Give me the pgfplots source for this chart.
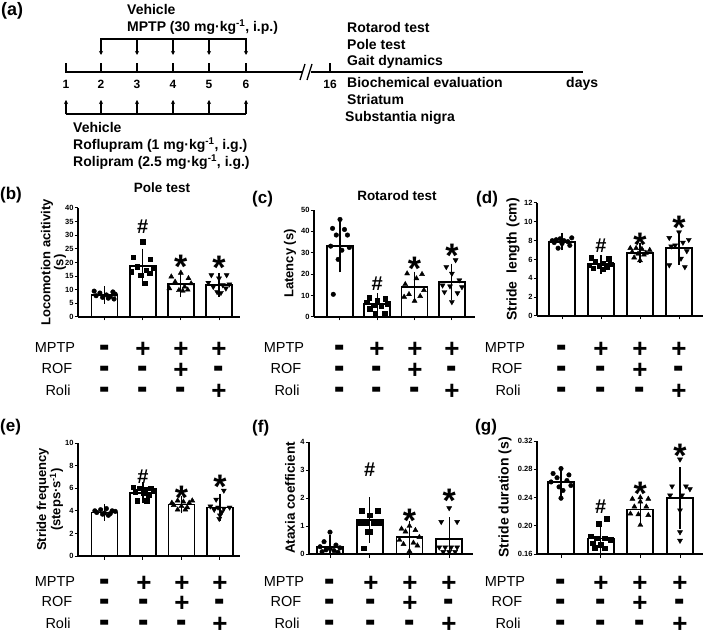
\documentclass[border=0pt]{standalone}
\usepackage{fontspec}
\setmainfont{Liberation Sans}
\usepackage{graphicx}
\usepackage{pgfplots}
\pgfplotsset{compat=1.18}
\usetikzlibrary{arrows.meta}
\newcommand{\fs}[1]{\fontsize{#1}{#1}\selectfont}
\pgfplotsset{
  panel/.style={
    scale only axis, anchor=south west,
    axis x line*=bottom, axis y line*=left,
    axis line style={line width=1.1pt, black},
    xtick={1,2,3,4}, xticklabels={},
    tick align=outside, major tick length=3.5pt,
    every tick/.style={line width=1pt, black},
    yticklabel style={font=\bfseries\fs{7.5}, inner sep=0.8pt},
    /pgf/number format/assume math mode=true,
    ylabel style={font=\bfseries\fs{13}, align=center, anchor=center},
    clip mode=individual,
  },
  bars/.style={ybar, bar width=26pt, fill=white, draw=black, line width=1.8pt,
    error bars/.cd, y dir=both, y explicit,
    error bar style={line width=1.2pt, black},
    error mark options={line width=1.2pt, black, mark size=6pt}},
  g1/.style={only marks, mark=*, mark size=2.3pt, black},
  g2/.style={only marks, mark=square*, mark size=2.2pt, black},
  g3/.style={only marks, mark=triangle*, mark size=2.9pt, black},
  g4/.style={only marks, mark=triangle*, mark size=2.9pt, black, mark options={rotate=180}},
}
\tikzset{
  hs/.style={font=\bfseries\fs{20}},
  st/.style={font=\bfseries\fs{34}, anchor=base, yshift=-20pt},
  pl/.style={font=\bfseries\fs{26}, anchor=base, yshift=-9.2pt},
  mi/.style={font=\bfseries\fs{26}, anchor=base, yshift=-10.6pt},
  lab/.style={font=\fs{14.5}, anchor=center},
  tl/.style={font=\bfseries\fs{14}, anchor=base west, inner sep=0pt},
  pn/.style={font=\bfseries\fs{17}, anchor=base west, inner sep=0pt},
}
\newcommand{\mn}{\scalebox{1.2}[1.6]{-}}
\newcommand{\signtable}[8]{%
  \node[lab] at (#5pt,#6pt) {MPTP};
  \node[lab] at (#5pt+2pt,#7pt) {ROF};
  \node[lab] at (#5pt+3pt,#8pt) {Roli};
  \node[mi] at (#1pt,#6pt) {\mn}; \node[pl] at (#2pt,#6pt) {+};
  \node[pl] at (#3pt,#6pt) {+}; \node[pl] at (#4pt,#6pt) {+};
  \node[mi] at (#1pt,#7pt) {\mn}; \node[mi] at (#2pt,#7pt) {\mn};
  \node[pl] at (#3pt,#7pt) {+}; \node[mi] at (#4pt,#7pt) {\mn};
  \node[mi] at (#1pt,#8pt) {\mn}; \node[mi] at (#2pt,#8pt) {\mn};
  \node[mi] at (#3pt,#8pt) {\mn}; \node[pl] at (#4pt,#8pt) {+};
}
\begin{document}
\begin{tikzpicture}
\useasboundingbox (0pt,0pt) rectangle (709pt,632pt);
\fill[white] (0pt,0pt) rectangle (709pt,632pt);
% ---------------- (a) timeline ----------------
\node[font=\bfseries\fs{18}, anchor=base west, inner sep=0pt] at (1pt,616pt) {(a)};
\draw[line width=2.5pt] (65pt,560pt) -- (303pt,560pt);
\draw[line width=2.5pt] (311pt,560pt) -- (583pt,560pt);
\draw[line width=1.3pt] (300pt,552pt) -- (305pt,568pt);
\draw[line width=1.3pt] (307pt,552pt) -- (312pt,568pt);
\foreach \x/\d in {66/1,101/2,137/3,173/4,209/5,246/6,330/16}{
  \draw[line width=1.3pt] (\x pt,560pt) -- (\x pt,569pt);
  \node[font=\bfseries\fs{12}, anchor=base] at (\x pt,543pt) {\d};
}
\draw[line width=1.1pt] (101pt,593pt) -- (246pt,593pt);
\foreach \x in {101,137,173,209,246}
  \draw[line width=1.1pt, -{Stealth[length=4pt,width=4pt]}] (\x pt,593.5pt) -- (\x pt,577pt);
\draw[line width=1.1pt] (66pt,518pt) -- (246pt,518pt);
\foreach \x in {66,101,137,173,209,246}
  \draw[line width=1.1pt, -{Stealth[length=4pt,width=4pt]}] (\x pt,517.5pt) -- (\x pt,532pt);
\node[tl] at (127pt,617pt) {Vehicle};
\node[tl] at (127pt,600pt) {MPTP (30 mg·kg\textsuperscript{-1}, i.p.)};
\node[tl] at (73pt,499pt) {Vehicle};
\node[tl] at (73pt,482pt) {Roflupram (1 mg·kg\textsuperscript{-1}, i.g.)};
\node[tl] at (73pt,465pt) {Rolipram (2.5 mg·kg\textsuperscript{-1}, i.g.)};
\node[tl] at (347pt,599pt) {Rotarod test};
\node[tl] at (347pt,582pt) {Pole test};
\node[tl] at (347pt,566pt) {Gait dynamics};
\node[tl] at (347pt,544pt) {Biochemical evaluation};
\node[tl] at (347pt,527pt) {Striatum};
\node[tl] at (345pt,510pt) {Substantia nigra};
\node[tl] at (566pt,544pt) {days};
% ---------------- panel labels and titles ----------------
\node[pn] at (0pt,432pt) {(b)};
\node[pn] at (252pt,428pt) {(c)};
\node[pn] at (476pt,428pt) {(d)};
\node[pn] at (0pt,200pt) {(e)};
\node[pn] at (252pt,199pt) {(f)};
\node[pn] at (475pt,200pt) {(g)};
\node[font=\bfseries\fs{13.5}, anchor=base] at (162pt,439pt) {Pole test};
\node[font=\bfseries\fs{13.5}, anchor=base] at (397pt,431pt) {Rotarod test};
% ---------------- (b) ----------------
\begin{axis}[panel, at={(78pt,315pt)}, width=162pt, height=109pt,
  xmin=0.306, xmax=4.55, ymin=0, ymax=40, ytick={0,5,...,40},
  ylabel={Locomotion acitivity\\(s)},
  ylabel style={at={(axis description cs:-0.151,0.5)}}]
\addplot[bars] coordinates {(1,8.0) +- (0,1.0) (2,18.6) +- (0,4.3) (3,12.0) +- (0,2.6) (4,11.8) +- (0,2.1)};
\addplot[g1] coordinates {(0.73,9.5)(1.22,9.2)(0.88,8.8)(1.28,8.4)(1.05,8.1)(0.78,7.8)(1.15,7.5)(0.95,7.2)(1.10,6.9)(1.25,6.6)};
\addplot[g2] coordinates {(2.0,27.7)(1.75,21.9)(2.2,21.2)(1.85,18.5)(2.27,17.8)(2.1,17.2)(1.7,16.6)(2.18,16.0)(1.95,15.4)(2.05,12.3)};
\addplot[g3] coordinates {(3.0,16.2)(2.75,14.8)(3.2,14.2)(2.85,12.9)(3.27,12.3)(3.1,11.1)(2.7,10.5)(3.18,10.0)(2.95,9.8)(3.05,9.6)};
\addplot[g4] coordinates {(3.8,15.4)(4.2,15.4)(4.0,14.2)(3.72,12.6)(4.27,12.0)(4.1,11.7)(3.85,11.1)(4.18,10.5)(3.95,9.2)(4.05,8.9)};
\node[hs] at (axis cs:2,33) {\#};
\node[st] at (axis cs:3,21.6) {*};
\node[st] at (axis cs:4,21) {*};
\end{axis}
% ---------------- (c) ----------------
\begin{axis}[panel, at={(314pt,315pt)}, width=161pt, height=107pt,
  xmin=0.303, xmax=4.62, ymin=0, ymax=50, ytick={0,10,...,50},
  ylabel={Latency (s)},
  ylabel style={at={(axis description cs:-0.149,0.5)}}]
\addplot[bars] coordinates {(1,33.1) +- (0,9.5) (2,5.9) +- (0,2.5) (3,14.0) +- (0,4.4) (4,16.4) +- (0,5.7)};
\addplot[g1] coordinates {(1.0,45.6)(0.8,41.4)(1.12,40.9)(0.9,38.3)(1.2,38.3)(0.75,33.1)(1.25,32.5)(1.05,31.2)(0.95,26.9)(0.82,10.6)};
\addplot[g2] coordinates {(1.78,9.0)(2.22,8.6)(2.0,7.8)(1.72,7.0)(2.28,6.2)(1.9,5.5)(2.1,5.0)(1.8,3.9)(1.95,1.6)(2.2,1.6)};
\addplot[g3] coordinates {(3.0,25.3)(2.8,20.3)(3.2,20.0)(3.05,18.0)(2.75,15.3)(3.25,12.5)(2.85,10.6)(3.15,9.7)(2.72,9.4)(3.0,7.5)};
\addplot[g4] coordinates {(4.1,26.6)(3.85,23.4)(4.0,20.3)(4.2,17.2)(3.75,14.8)(3.95,14.4)(4.27,14.0)(3.8,11.7)(4.15,11.2)(4.0,7.0)};
\node[hs] at (axis cs:2,15.6) {\#};
\node[st] at (axis cs:3,26.3) {*};
\node[st] at (axis cs:4,32.5) {*};
\end{axis}
% ---------------- (d) ----------------
\begin{axis}[panel, at={(537pt,316pt)}, width=166pt, height=113pt,
  xmin=0.359, xmax=4.615, ymin=0, ymax=12, ytick={0,2,...,12},
  ylabel={Stride\ \ length (cm)},
  ylabel style={at={(axis description cs:-0.145,0.5)}, font=\bfseries\fs{14}}]
\addplot[bars] coordinates {(1,7.9) +- (0,0.3) (2,5.5) +- (0,0.35) (3,6.7) +- (0,0.4) (4,7.2) +- (0,1.1)};
\addplot[g1] coordinates {(0.75,8.0)(0.85,8.1)(0.95,8.2)(1.05,8.0)(1.15,7.9)(1.25,8.3)(0.8,7.8)(1.0,7.7)(1.2,7.5)(0.9,7.2)};
\addplot[g2] coordinates {(1.75,6.2)(2.2,6.1)(1.85,5.8)(2.05,5.6)(2.25,5.5)(1.7,5.4)(1.95,5.3)(2.15,5.2)(1.8,5.1)(2.05,5.0)};
\addplot[g3] coordinates {(2.75,7.2)(2.9,7.2)(3.05,7.1)(3.25,7.0)(2.8,6.8)(3.15,6.7)(2.95,6.6)(3.1,6.5)(2.85,6.2)(3.0,5.9)};
\addplot[g4] coordinates {(4.0,8.9)(3.75,8.3)(4.25,8.1)(4.1,7.8)(3.9,7.5)(3.8,7.4)(4.2,6.9)(4.05,6.1)(3.75,5.4)(4.15,5.2)};
\node[hs] at (axis cs:2,7.5) {\#};
\node[st] at (axis cs:3,8.4) {*};
\node[st] at (axis cs:4,10.2) {*};
\end{axis}
% ---------------- (e) ----------------
\begin{axis}[panel, at={(78pt,76pt)}, width=162pt, height=113pt,
  xmin=0.312, xmax=4.52, ymin=0, ymax=10, ytick={0,2,...,10},
  ylabel={Stride frequency\\(steps·s\textsuperscript{-1})},
  ylabel style={at={(axis description cs:-0.173,0.5)}}]
\addplot[bars] coordinates {(1,3.85) +- (0,0.2) (2,5.6) +- (0,0.4) (3,4.55) +- (0,0.25) (4,4.3) +- (0,0.7)};
\addplot[g1] coordinates {(0.75,4.0)(0.9,4.1)(1.05,4.2)(1.2,4.0)(1.28,3.95)(0.8,3.85)(1.0,3.8)(1.15,3.75)(0.95,3.7)(1.1,3.6)};
\addplot[g2] coordinates {(1.75,6.1)(1.9,6.0)(2.05,5.9)(2.2,6.0)(2.28,5.8)(1.8,5.7)(2.0,5.6)(2.15,5.4)(1.85,4.9)(2.1,4.9)};
\addplot[g3] coordinates {(2.75,4.7)(2.9,4.9)(3.05,4.8)(3.2,4.7)(3.28,4.9)(2.8,4.5)(3.0,4.4)(3.15,4.3)(2.9,4.1)(3.1,4.1)};
\addplot[g4] coordinates {(4.1,5.8)(3.9,5.0)(3.75,4.4)(3.95,4.3)(4.25,4.3)(4.1,4.2)(3.85,4.1)(4.05,3.9)(4.0,3.6)(3.98,3.3)};
\node[hs] at (axis cs:2,7.0) {\#};
\node[st] at (axis cs:3,5.85) {*};
\node[st] at (axis cs:4,6.9) {*};
\end{axis}
% ---------------- (f) ----------------
\begin{axis}[panel, at={(309pt,78pt)}, width=164pt, height=112pt,
  xmin=0.471, xmax=4.6, ymin=0, ymax=4, ytick={0,1,...,4},
  ylabel={Ataxia coefficient},
  ylabel style={at={(axis description cs:-0.116,0.5)}, font=\bfseries\fs{13.5}}]
\addplot[bars] coordinates {(1,0.26) +- (0,0.2) (2,1.22) +- (0,0.6) (3,0.6) +- (0,0.35) (4,0.55) +- (0,0.55)};
\addplot[g1] coordinates {(1.0,0.78)(0.85,0.44)(1.15,0.32)(0.75,0.26)(1.25,0.22)(0.9,0.15)(1.1,0.12)(0.8,0.08)(1.2,0.06)(1.0,0.2)};
\addplot[g2] coordinates {(1.8,1.54)(2.2,1.54)(2.0,1.39)(1.75,1.1)(1.9,1.1)(2.1,1.1)(2.25,1.1)(1.95,0.8)(2.0,0.8)(1.85,0.2)};
\addplot[g3] coordinates {(3.0,1.0)(2.8,0.9)(3.15,0.85)(2.9,0.8)(3.25,0.6)(2.75,0.5)(3.1,0.4)(2.85,0.35)(3.2,0.3)(3.0,0.1)};
\addplot[g4] coordinates {(4.0,1.64)(3.8,1.15)(4.2,1.15)(3.75,0.24)(3.9,0.24)(4.05,0.24)(4.2,0.24)(3.85,0.08)(4.0,0.08)(4.15,0.08)};
\node[hs] at (axis cs:2,3.0) {\#};
\node[st] at (axis cs:3,1.5) {*};
\node[st] at (axis cs:4,2.2) {*};
\end{axis}
% ---------------- (g) ----------------
\begin{axis}[panel, at={(537pt,78pt)}, width=166pt, height=113pt,
  xmin=0.395, xmax=4.58, ymin=0.16, ymax=0.32, ytick={0.16,0.20,0.24,0.28,0.32},
  yticklabel style={/pgf/number format/.cd, fixed, fixed zerofill, precision=2},
  ylabel={Stride duration (s)},
  ylabel style={at={(axis description cs:-0.193,0.5)}, font=\bfseries\fs{14}}]
\addplot[bars] coordinates {(1,0.262) +- (0,0.012) (2,0.182) +- (0,0.013) (3,0.223) +- (0,0.012) (4,0.2395) +- (0,0.035)};
\addplot[g1] coordinates {(1.0,0.281)(0.8,0.274)(1.2,0.272)(0.9,0.268)(1.15,0.264)(0.75,0.262)(1.25,0.257)(0.95,0.255)(1.05,0.250)(1.0,0.239)};
\addplot[g2] coordinates {(2.15,0.210)(1.95,0.203)(1.75,0.185)(1.9,0.182)(2.1,0.182)(2.25,0.180)(1.8,0.175)(2.0,0.173)(1.85,0.169)(2.1,0.168)};
\addplot[g3] coordinates {(3.0,0.240)(2.8,0.238)(3.2,0.238)(3.0,0.234)(2.85,0.227)(3.15,0.227)(2.75,0.217)(2.95,0.216)(3.2,0.215)(3.0,0.201)};
\addplot[g4] coordinates {(4.0,0.294)(3.8,0.256)(4.15,0.256)(4.25,0.252)(3.75,0.243)(4.05,0.243)(4.0,0.222)(4.0,0.191)(4.0,0.179)};
\node[hs] at (axis cs:2,0.227) {\#};
\node[st] at (axis cs:3,0.257) {*};
\node[st] at (axis cs:4,0.311) {*};
\end{axis}
% ---------------- sign tables ----------------
\signtable{104.5}{143}{181}{219}{55}{284}{263}{242}
\signtable{340}{377}{415}{452}{284}{284}{263}{242}
\signtable{562}{601}{640}{679}{505}{284}{263}{242}
\signtable{104.5}{144}{182}{220}{55}{50}{30}{9}
\signtable{330}{371}{410}{449}{284}{50}{30}{9}
\signtable{561}{601}{640}{680}{505}{50}{30}{9}
\end{tikzpicture}
\end{document}
